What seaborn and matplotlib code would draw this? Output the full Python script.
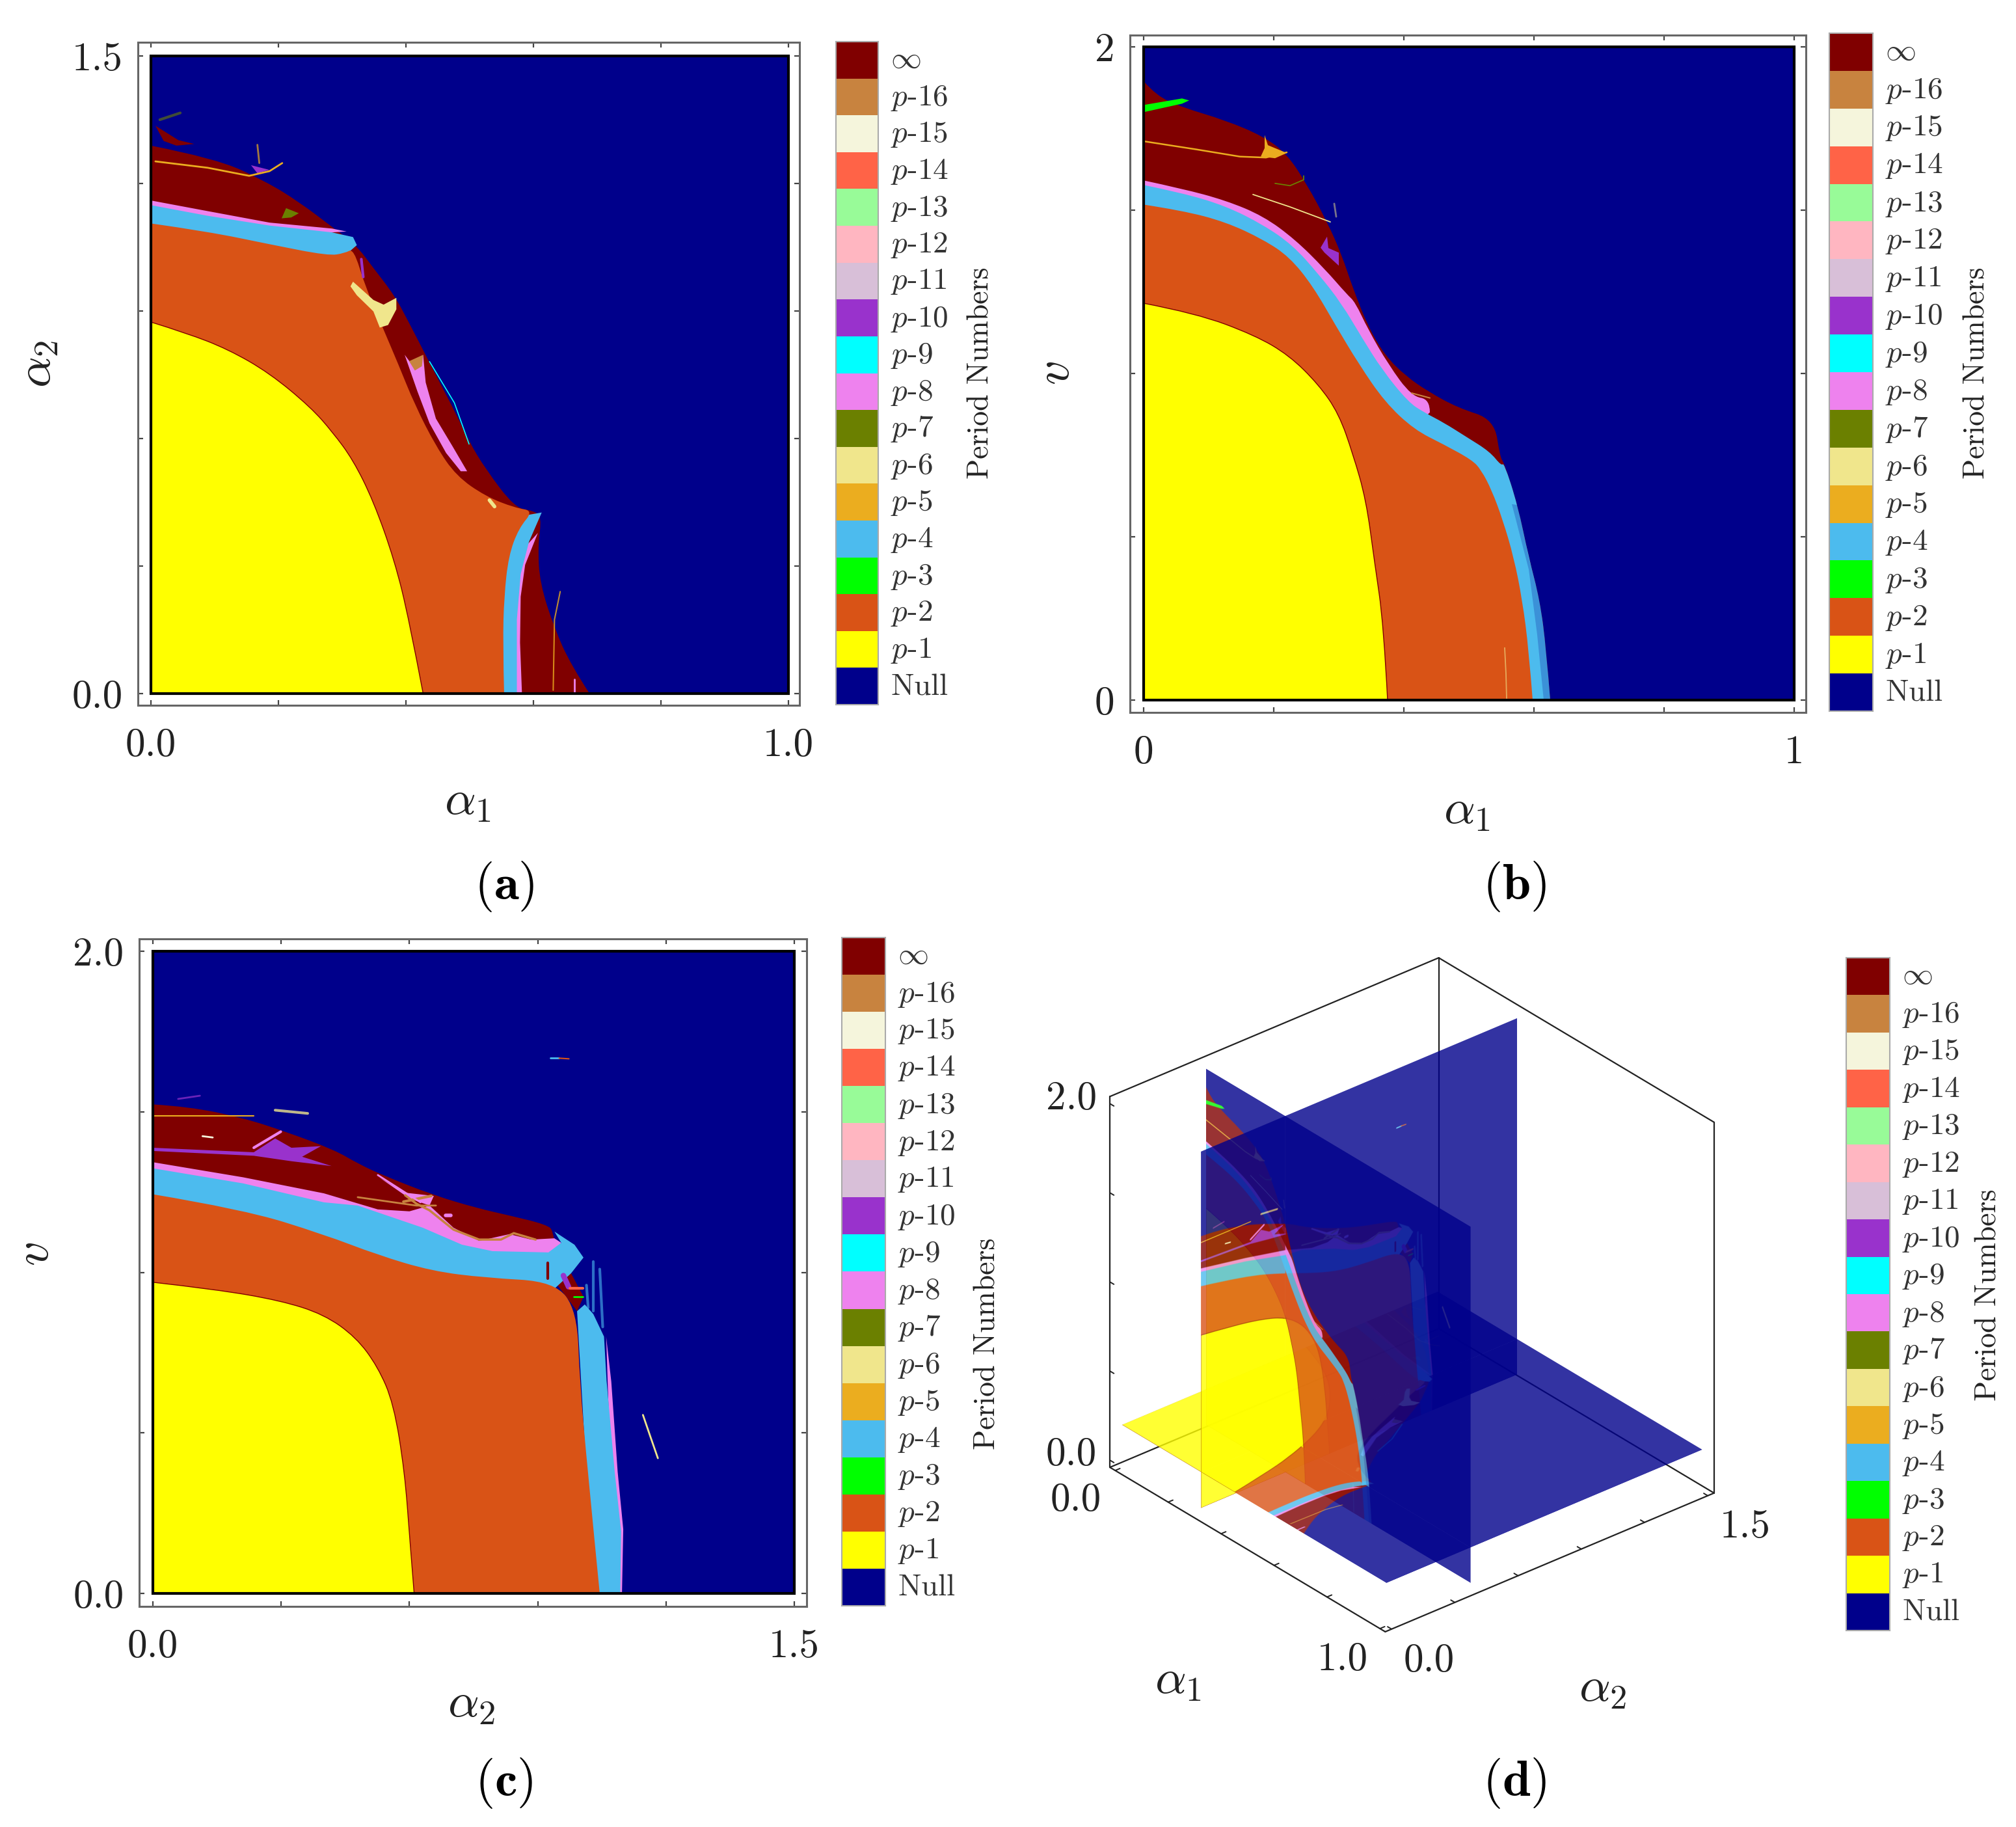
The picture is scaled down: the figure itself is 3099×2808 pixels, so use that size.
# Period number maps: three slices and their 3D view
import numpy as np
import matplotlib as mpl
mpl.use('Agg')
import matplotlib.pyplot as plt
import seaborn as sns
from matplotlib.colors import ListedColormap
from matplotlib.patches import PathPatch, Polygon, Rectangle
from matplotlib.path import Path
from matplotlib.transforms import Affine2D, ScaledTranslation

sns.set_theme(style='ticks')
plt.rcParams['font.family'] = ['cmr10', 'DejaVu Serif']
plt.rcParams['mathtext.fontset'] = 'cm'
plt.rcParams['axes.formatter.use_mathtext'] = True
plt.rcParams['axes.unicode_minus'] = False

W, H = 3099, 2808

# legend, top to bottom
period_names = ['inf', 'p16', 'p15', 'p14', 'p13', 'p12', 'p11', 'p10', 'p9', 'p8', 'p7', 'p6',
                'p5', 'p4', 'p3', 'p2', 'p1', 'null']
period_labels = [r'$\infty$', r'$p\text{-}16$', r'$p\text{-}15$', r'$p\text{-}14$', r'$p\text{-}13$',
                 r'$p\text{-}12$', r'$p\text{-}11$', r'$p\text{-}10$', r'$p\text{-}9$', r'$p\text{-}8$',
                 r'$p\text{-}7$', r'$p\text{-}6$', r'$p\text{-}5$', r'$p\text{-}4$', r'$p\text{-}3$',
                 r'$p\text{-}2$', r'$p\text{-}1$', r'$\mathrm{Null}$']
period_colors = ['#800000', '#C8833F', '#F5F5DC', '#FF6347', '#98FB98', '#FFB6C1', '#D8BFD8', '#9932CC',
                 '#00FFFF', '#EE82EE', '#6B8000', '#F0E68C', '#EBAD1F', '#4CBBEE', '#00FF00', '#D95316',
                 '#FFFF00', '#00008B']
P = dict(zip(period_names, period_colors))

# panel (a): alpha1 / alpha2
a_inf_x = [0, .102, .180, .232, .284, .322, .349, .382, .405, .427, .453, .479, .499, .525, .571, .600, .613, .607, .610, .633, .659, .688]
a_inf_y = [1.289, 1.259, 1.205, 1.157, 1.098, 1.055, 1.001, .937, .872, .808, .732, .657, .593, .528, .437, .430, .416, .346, .260, .153, .067, 0]
a_wedge_x = [.007, .043, .068, .04, .02]
a_wedge_y = [1.336, 1.302, 1.293, 1.289, 1.30]
a_p8top_x = [0, .089, .186, .284, .307, .284, .186, 0]
a_p8top_y = [1.160, 1.135, 1.108, 1.094, 1.087, 1.085, 1.08, 1.12]
a_p4top_x = [0, .089, .186, .284, .317, .323, .304, .278, .186, 0]
a_p4top_y = [1.149, 1.124, 1.101, 1.085, 1.074, 1.055, 1.03, 1.02, 1.04, 1.09]
a_p8right_x = [.607, .587, .580, .579, .582, .56, .56]
a_p8right_y = [.378, .303, .228, .120, 0, 0, .3]
a_p4right_x = [.613, .593, .580, .574, .574, .54, .54, .56, .59]
a_p4right_y = [.426, .357, .281, .174, 0, 0, .2, .35, .42]
a_p2_x = [0, .089, .186, .278, .304, .318, .336, .365, .388, .414, .447, .479, .525, .571, .600, .577, .561, .554, .552, .554]
a_p2_y = [1.106, 1.087, 1.057, 1.030, 1.036, 1.047, .958, .856, .775, .679, .582, .512, .464, .437, .430, .389, .324, .228, .120, 0]
a_p1_x = [0, .056, .121, .186, .251, .285, .317, .349, .382, .405, .427]
a_p1_y = [.874, .848, .810, .754, .673, .615, .550, .453, .314, .174, 0]
a_p8mid_x = [.398, .414, .427, .431, .447, .473, .496, .486, .463, .437, .418]
a_p8mid_y = [.797, .765, .797, .732, .647, .582, .523, .523, .566, .636, .711]
a_p6_x = [.317, .349, .365, .385, .385, .372, .359, .349, .323, .313]
a_p6_y = [.969, .926, .915, .931, .904, .867, .861, .899, .937, .958]
a_p10_x = [.157, .186, .167]
a_p10_y = [1.243, 1.232, 1.224]
a_p7_x = [.205, .220, .232, .212]
a_p7_y = [1.118, 1.120, 1.130, 1.142]
a_p16_x = [.405, .414, .425, .427]
a_p16_y = [.782, .760, .770, .797]
a_p5line_x = [.007, .089, .154, .186, .206]
a_p5line_y = [1.252, 1.237, 1.218, 1.229, 1.248]
a_p5spike_x = [.167, .170]
a_p5spike_y = [1.291, 1.248]
a_greentop_x = [.014, .046]
a_greentop_y = [1.350, 1.366]
a_p10spike_x = [.330, .333]
a_p10spike_y = [1.022, .98]
a_cyanline_x = [.437, .476, .499]
a_cyanline_y = [.781, .684, .587]
a_p5vert_x = [.642, .633, .631]
a_p5vert_y = [.240, .174, .008]
a_pinkvert_x = [.664, .664]
a_pinkvert_y = [.034, .002]
a_p6dot_x = [.531, .539]
a_p6dot_y = [.455, .440]

# panel (b): alpha1 / v
b_inf_x = [0, .019, .059, .126, .184, .220, .251, .282, .304, .322, .345, .371, .403, .438, .483, .539, .548, .554, .575, .592, .609, .619, .625]
b_inf_y = [1.895, 1.851, 1.815, 1.775, 1.726, 1.673, 1.579, 1.464, 1.366, 1.259, 1.144, 1.055, .992, .944, .895, .859, .743, .727, .597, .437, .307, .154, 0]
b_p8_x = [0, .059, .126, .184, .233, .278, .313, .325, .345, .376, .412, .440, .440]
b_p8_y = [1.591, 1.566, 1.530, 1.482, 1.410, 1.321, 1.241, 1.219, 1.135, 1.028, .930, .921, .881]
b_p4_x = [0, .059, .126, .184, .229, .269, .304, .336, .367, .407, .431, .461, .496, .532, .550, .554, .575, .592, .609, .619, .625]
b_p4_y = [1.577, 1.553, 1.513, 1.455, 1.393, 1.304, 1.215, 1.108, 1.010, .912, .881, .850, .806, .761, .717, .727, .597, .437, .307, .154, 0]
b_speck_x = [.566, .592, .605, .615, .625, .619, .609, .592, .575]
b_speck_y = [.60, .40, .2, 0, 0, .154, .307, .437, .597]
b_p2_x = [0, .059, .126, .184, .224, .260, .296, .331, .371, .416, .461, .505, .519, .535, .552, .569, .582, .592, .598]
b_p2_y = [1.517, 1.499, 1.464, 1.410, 1.357, 1.268, 1.144, 1.028, .912, .828, .783, .735, .704, .643, .552, .437, .307, .154, 0]
b_p1_x = [0, .081, .171, .224, .269, .300, .322, .342, .355, .369, .375]
b_p1_y = [1.215, 1.184, 1.117, 1.055, .966, .877, .752, .613, .422, .231, 0]
b_green_x = [0, .059, .070, .059, 0]
b_green_y = [1.822, 1.842, 1.836, 1.826, 1.800]
b_p5blob_x = [.186, .191, .220, .202, .180, .186]
b_p5blob_y = [1.730, 1.699, 1.675, 1.659, 1.664, 1.690]
b_p10blob_x = [.282, .284, .300, .300, .278, .272]
b_p10blob_y = [1.419, 1.384, 1.370, 1.330, 1.370, 1.385]
b_p5line_x = [0, .081, .148, .188, .220]
b_p5line_y = [1.711, 1.686, 1.664, 1.661, 1.677]
b_paleline_x = [.168, .225, .287]
b_paleline_y = [1.548, 1.510, 1.464]
b_oliveline_x = [.202, .225, .246, .246]
b_oliveline_y = [1.582, 1.575, 1.593, 1.605]
b_p16line_x = [.412, .440]
b_p16line_y = [.940, .925]
b_p6vert_x = [.555, .557, .558]
b_p6vert_y = [.160, .080, .005]
b_float_x = [.293, .296]
b_float_y = [1.520, 1.480]

# panel (c): alpha2 / v
c_inf_x = [0, .085, .211, .311, .425, .479, .540, .657, .758, .834, .920, .939, .95]
c_inf_y = [1.523, 1.516, 1.481, 1.438, 1.381, 1.339, 1.301, 1.240, 1.200, 1.177, 1.149, 1.127, 1.0]
c_tri_x = [.978, 1.007, .992, .940]
c_tri_y = [.997, .924, .879, .971]
c_p8band_x = [0, .211, .400, .526, .600, .647, .703, .763, .834, .885, .939, .955, .925, .794, .631, .479, 0]
c_p8band_y = [1.343, 1.296, 1.246, 1.196, 1.190, 1.208, 1.139, 1.098, 1.119, 1.102, 1.106, 1.092, 1.05, 1.05, 1.12, 1.19, 1.31]
c_p8wedge_x = [.530, .590, .657, .647, .60]
c_p8wedge_y = [1.295, 1.248, 1.238, 1.208, 1.23]
c_p4top_x = [0, .211, .400, .479, .631, .723, .794, .925, .955, .939, .986, 1.007, .978, .940, .778, .526, 0]
c_p4top_y = [1.324, 1.277, 1.218, 1.208, 1.139, 1.086, 1.066, 1.062, 1.092, 1.127, 1.086, 1.046, .997, .95, .95, 1.03, 1.2]
c_p8right_x = [1.06, 1.072, 1.087, 1.10, 1.097, 1.08]
c_p8right_y = [.80, .66, .378, .20, 0, 0]
c_p4right_x = [.992, 1.01, 1.03, 1.055, 1.061, 1.080, 1.095, 1.093, 1.03]
c_p4right_y = [.879, .90, .87, .80, .663, .378, .193, 0, 0]
c_streak1_x = [1.030, 1.030]
c_streak1_y = [1.033, .880]
c_streak2_x = [1.045, 1.052]
c_streak2_y = [1.010, .830]
c_streak3_x = [1.014, 1.018]
c_streak3_y = [.960, .890]
c_p2_x = [0, .211, .400, .526, .652, .778, .940, .992, .998, 1.017, 1.045]
c_p2_y = [1.243, 1.196, 1.118, 1.054, 1.004, .983, .971, .879, .663, .378, 0]
c_p1_x = [0, .147, .299, .400, .475, .526, .563, .589, .601, .611]
c_p1_y = [.969, .947, .912, .869, .798, .706, .592, .378, .165, 0]
c_p10_x = [0, .236, .286, .324, .393, .349, .418, .324, .236, 0]
c_p10_y = [1.388, 1.374, 1.417, 1.388, 1.393, 1.360, 1.331, 1.346, 1.363, 1.378]
c_p16a_x = [.590, .616, .647, .703, .763, .814, .844, .895]
c_p16a_y = [1.240, 1.214, 1.193, 1.133, 1.102, 1.102, 1.122, 1.102]
c_p16b_x = [.479, .616, .662]
c_p16b_y = [1.234, 1.208, 1.208]
c_p16c_x = [.586, .651]
c_p16c_y = [1.220, 1.238]
c_p8strand_x = [.236, .299]
c_p8strand_y = [1.388, 1.438]
c_p8diag_x = [.526, .626]
c_p8diag_y = [1.303, 1.218]
c_p5line_x = [0, .236]
c_p5line_y = [1.488, 1.488]
c_float1_x = [.929, .950]
c_float1_y = [1.667, 1.667]
c_float2_x = [.950, .973]
c_float2_y = [1.667, 1.665]
c_p6vert_x = [1.146, 1.163, 1.181]
c_p6vert_y = [.556, .490, .421]
c_blob1_x = [.059, .110]
c_blob1_y = [1.540, 1.550]
c_blob2_x = [.286, .362]
c_blob2_y = [1.505, 1.495]
c_p16top_x = [.116, .140]
c_p16top_y = [1.424, 1.420]
c_magenta_x = [.684, .696]
c_magenta_y = [1.178, 1.178]
c_oval_x = [.923, .923]
c_oval_y = [1.030, .980]
c_trip10_x = [.960, .972]
c_trip10_y = [.990, .955]
c_trip14_x = [.975, 1.005]
c_trip14_y = [.950, .950]
c_trip3_x = [.985, 1.005]
c_trip3_y = [.925, .925]

# slice positions in the 3D view
a1_slice = 0.3
a2_slice = 0.4
v_slice = 0.2
tick_labels_a1 = ['0.0', '1.0']
tick_labels_a2 = ['0.0', '1.5']
tick_labels_v = ['0.0', '2.0']


def fill(ax, key, xs, ys, axis=False, alpha=1.0):
    xs, ys = list(xs), list(ys)
    if axis:
        xs = xs + [0]
        ys = ys + [0]
    ax.fill(xs, ys, color=P[key], lw=0, alpha=alpha)


def curve(ax, key, xs, ys, alpha=1.0, edge=None):
    # region from the axes corner up to a read boundary, read points as bezier controls
    pts = np.column_stack([xs, ys])
    verts = [pts[0]]
    codes = [Path.MOVETO]
    for i in range(1, len(pts) - 1):
        end = pts[i + 1] if i == len(pts) - 2 else (pts[i] + pts[i + 1]) / 2
        verts += [pts[i], end]
        codes += [Path.CURVE3, Path.CURVE3]
    verts += [np.array([0., 0.]), pts[0]]
    codes += [Path.LINETO, Path.CLOSEPOLY]
    ec = P[edge] if edge else 'none'
    ax.add_patch(PathPatch(Path(verts, codes), fc=P[key], ec=ec, lw=1 if edge else 0, alpha=alpha))


def line(ax, key, xs, ys, lw=1.5, alpha=1.0):
    sns.lineplot(x=xs, y=ys, sort=False, estimator=None, color=P[key], linewidth=lw, alpha=alpha, ax=ax, legend=False)


def paint_a(ax):
    ax.fill([0, 1, 1, 0], [0, 0, 1.5, 1.5], color=P['null'], lw=0)
    curve(ax, 'inf', a_inf_x, a_inf_y)
    fill(ax, 'inf', a_wedge_x, a_wedge_y)
    fill(ax, 'p8', a_p8top_x, a_p8top_y)
    fill(ax, 'p4', a_p4top_x, a_p4top_y)
    fill(ax, 'p8', a_p8right_x, a_p8right_y)
    fill(ax, 'p4', a_p4right_x, a_p4right_y)
    curve(ax, 'p2', a_p2_x, a_p2_y)
    curve(ax, 'p1', a_p1_x, a_p1_y, edge='inf')
    fill(ax, 'p8', a_p8mid_x, a_p8mid_y)
    fill(ax, 'p16', a_p16_x, a_p16_y)
    fill(ax, 'p6', a_p6_x, a_p6_y)
    fill(ax, 'p10', a_p10_x, a_p10_y)
    fill(ax, 'p7', a_p7_x, a_p7_y)
    line(ax, 'p5', a_p5line_x, a_p5line_y, 2)
    line(ax, 'p5', a_p5spike_x, a_p5spike_y, 2, .7)
    line(ax, 'p7', a_greentop_x, a_greentop_y, 3, .6)
    line(ax, 'p10', a_p10spike_x, a_p10spike_y, 3)
    line(ax, 'p9', a_cyanline_x, a_cyanline_y, 1.2)
    line(ax, 'p5', a_p5vert_x, a_p5vert_y, 1.5, .8)
    line(ax, 'p8', a_pinkvert_x, a_pinkvert_y, 2)
    line(ax, 'p6', a_p6dot_x, a_p6dot_y, 4)


def paint_b(ax):
    ax.fill([0, 1, 1, 0], [0, 0, 2, 2], color=P['null'], lw=0)
    curve(ax, 'inf', b_inf_x, b_inf_y)
    curve(ax, 'p8', b_p8_x, b_p8_y)
    curve(ax, 'p4', b_p4_x, b_p4_y)
    fill(ax, 'null', b_speck_x, b_speck_y, alpha=.22)
    curve(ax, 'p2', b_p2_x, b_p2_y)
    curve(ax, 'p1', b_p1_x, b_p1_y, edge='inf')
    fill(ax, 'p3', b_green_x, b_green_y)
    fill(ax, 'p5', b_p5blob_x, b_p5blob_y)
    fill(ax, 'p10', b_p10blob_x, b_p10blob_y)
    line(ax, 'p5', b_p5line_x, b_p5line_y, 1.8)
    line(ax, 'p6', b_paleline_x, b_paleline_y, 1.3)
    line(ax, 'p7', b_oliveline_x, b_oliveline_y, 1.3)
    line(ax, 'p16', b_p16line_x, b_p16line_y, 1.5)
    line(ax, 'p6', b_p6vert_x, b_p6vert_y, 1.3, .6)
    line(ax, 'p6', b_float_x, b_float_y, 2, .5)


def paint_c(ax):
    ax.fill([0, 1.5, 1.5, 0], [0, 0, 2, 2], color=P['null'], lw=0)
    curve(ax, 'inf', c_inf_x, c_inf_y)
    fill(ax, 'inf', c_tri_x, c_tri_y)
    fill(ax, 'p8', c_p8band_x, c_p8band_y)
    fill(ax, 'p8', c_p8wedge_x, c_p8wedge_y)
    fill(ax, 'p4', c_p4top_x, c_p4top_y)
    fill(ax, 'p8', c_p8right_x, c_p8right_y)
    fill(ax, 'p4', c_p4right_x, c_p4right_y)
    line(ax, 'p4', c_streak1_x, c_streak1_y, 3, .6)
    line(ax, 'p4', c_streak2_x, c_streak2_y, 3, .6)
    line(ax, 'p4', c_streak3_x, c_streak3_y, 3, .6)
    curve(ax, 'p2', c_p2_x, c_p2_y)
    curve(ax, 'p1', c_p1_x, c_p1_y, edge='inf')
    fill(ax, 'p10', c_p10_x, c_p10_y)
    line(ax, 'p16', c_p16a_x, c_p16a_y, 2.5)
    line(ax, 'p16', c_p16b_x, c_p16b_y, 2)
    line(ax, 'p16', c_p16c_x, c_p16c_y, 3)
    line(ax, 'p8', c_p8strand_x, c_p8strand_y, 3)
    line(ax, 'p8', c_p8diag_x, c_p8diag_y, 2)
    line(ax, 'p5', c_p5line_x, c_p5line_y, 1.5)
    line(ax, 'p4', c_float1_x, c_float1_y, 2)
    line(ax, 'p2', c_float2_x, c_float2_y, 1.5)
    line(ax, 'p6', c_p6vert_x, c_p6vert_y, 2)
    line(ax, 'p10', c_blob1_x, c_blob1_y, 2, .7)
    line(ax, 'p6', c_blob2_x, c_blob2_y, 3, .8)
    line(ax, 'p15', c_p16top_x, c_p16top_y, 2)
    line(ax, 'p8', c_magenta_x, c_magenta_y, 4)
    line(ax, 'inf', c_oval_x, c_oval_y, 3)
    line(ax, 'p10', c_trip10_x, c_trip10_y, 6)
    line(ax, 'p14', c_trip14_x, c_trip14_y, 3)
    line(ax, 'p3', c_trip3_x, c_trip3_y, 2)


fig = plt.figure(figsize=(W / 100, H / 100), dpi=100, facecolor='white')


def rect(l, t, r, b):
    return [l / W, 1 - b / H, (r - l) / W, (b - t) / H]


def put(x, y, s, size=44, **kw):
    kw.setdefault('ha', 'center')
    kw.setdefault('va', 'center')
    kw.setdefault('color', '#222222')
    fig.text(x / W, 1 - y / H, s, fontsize=size, **kw)


def panel(frame, inner, xmax, ymax, xticks, yticks, xlab, ylab, painter):
    ax = fig.add_axes(rect(*frame))
    painter(ax)
    l, t, r, b = frame
    il, it, ir, ib = inner
    sx = xmax / (ir - il)
    sy = ymax / (ib - it)
    ax.set_xlim(-(il - l) * sx, xmax + (r - ir) * sx)
    ax.set_ylim(-(b - ib) * sy, ymax + (it - t) * sy)
    ax.add_patch(Rectangle((0, 0), xmax, ymax, fill=False, ec='black', lw=3, zorder=5))
    ax.set_xticks(xticks)
    ax.set_yticks(yticks)
    ax.set_xticklabels(xlab, fontsize=44, color='#222222')
    ax.set_yticklabels(ylab, fontsize=44, color='#222222')
    ax.tick_params(direction='in', top=True, right=True, length=6, width=1.6, color='#444444')
    ax.tick_params(axis='x', pad=25)
    ax.tick_params(axis='y', pad=17)
    for s in ax.spines.values():
        s.set_color('#666666')
        s.set_linewidth(2.2)
    return ax


def strip(l, t, r, b, title_x, title_y):
    ax = fig.add_axes(rect(l, t, r, b))
    cells = np.arange(len(period_names))[:, None]
    sns.heatmap(cells, cmap=ListedColormap(period_colors), cbar=False, xticklabels=False,
                yticklabels=period_labels, vmin=-.5, vmax=len(period_names) - .5, ax=ax)
    ax.yaxis.tick_right()
    ax.tick_params(axis='y', direction='in', length=8, width=1.5, color='#00000066', pad=14, labelsize=34,
                   labelcolor='#333333', labelrotation=0)
    shift = ScaledTranslation(0, 4 / 100, fig.dpi_scale_trans)
    for lab in ax.get_yticklabels():
        lab.set_transform(lab.get_transform() + shift)
    for s in ax.spines.values():
        s.set_visible(True)
        s.set_color('#aaaaaa')
        s.set_linewidth(1.5)
    put(title_x, title_y, 'Period Numbers', size=33, rotation=90)


panel((212, 65, 1229, 1084), (232, 86, 1212, 1066), 1, 1.5, np.arange(0, 1.01, .2), np.arange(0, 1.51, .3),
      ['0.0', '', '', '', '', '1.0'], ['0.0', '', '', '', '', '1.5'], paint_a)
panel((1737, 54, 2776, 1095), (1758, 72, 2758, 1076), 1, 2, np.arange(0, 1.01, .2), np.arange(0, 2.01, .5),
      ['0', '', '', '', '', '1'], ['0', '', '', '', '2'], paint_b)
panel((214, 1443, 1240, 2469), (235, 1462, 1221, 2449), 1.5, 2, np.arange(0, 1.51, .3), np.arange(0, 2.01, .5),
      ['0.0', '', '', '', '', '1.5'], ['0.0', '', '', '', '2.0'], paint_c)

strip(1285, 64, 1350, 1083, 1508, 573)
strip(2812, 51, 2879, 1093, 3039, 573)
strip(1294, 1441, 1361, 2468, 1518, 2065)
strip(2838, 1472, 2905, 2506, 3057, 1990)

put(719, 1233, r'$\alpha_1$', 54)
put(59, 559, r'$\alpha_2$', 54, rotation=90)
put(2255, 1247, r'$\alpha_1$', 54)
put(1624, 573, r'$v$', 54, rotation=90)
put(725, 2620, r'$\alpha_2$', 54)
put(55, 1927, r'$v$', 54, rotation=90)

put(775, 1363, r'$(\mathbf{a})$', 56, color='black')
put(2328, 1363, r'$(\mathbf{b})$', 56, color='black')
put(775, 2741, r'$(\mathbf{c})$', 56, color='black')
put(2328, 2741, r'$(\mathbf{d})$', 56, color='black')

# panel (d): the three slices seen from a parallel projection
ax3 = fig.add_axes(rect(1600, 1450, 2800, 2620))
ax3.axis('off')
ORIGIN = np.array([1724., 2245.])
VEC_A1 = np.array([407., 243.])
VEC_A2 = np.array([486., -205.])
VEC_V = np.array([0., -548.])


def project(a1, a2, v):
    return ORIGIN + a1 * VEC_A1 + (a2 / 1.5) * VEC_A2 + (v / 2) * VEC_V


def render(painter, xmax, ymax):
    f = plt.figure(figsize=(8, 8), dpi=100)
    a = f.add_axes([0, 0, 1, 1])
    painter(a)
    a.set_xlim(0, xmax)
    a.set_ylim(0, ymax)
    a.axis('off')
    f.canvas.draw()
    arr = np.asarray(f.canvas.buffer_rgba()).copy()
    plt.close(f)
    return arr


img_h = render(paint_a, 1, 1.5)
img_p1 = render(paint_b, 1, 2)
img_p2 = render(paint_c, 1.5, 2)

pad = 0.02
box = lambda i, j, k: project(-pad + i * (1 + 2 * pad), 1.5 * (-pad + j * (1 + 2 * pad)), 2 * (-pad + k * (1 + 2 * pad)))
box_edges = [((0, 0, 1), (0, 1, 1)), ((0, 1, 1), (1, 1, 1)), ((1, 1, 1), (1, 1, 0)), ((0, 0, 0), (0, 0, 1)),
             ((0, 1, 0), (0, 1, 1)), ((0, 0, 0), (1, 0, 0)), ((1, 0, 0), (1, 1, 0)), ((0, 0, 0), (0, 1, 0)),
             ((0, 1, 0), (1, 1, 0))]
for c0, c1 in box_edges:
    p0, p1 = box(*c0), box(*c1)
    ax3.plot([p0[0], p1[0]], [p0[1], p1[1]], color='#222222', lw=1.6, zorder=.5)

for t in np.arange(0, 1.01, .2):
    p0 = project(t, -pad * 1.5, -pad * 2)
    ax3.plot([p0[0], p0[0] + .015 * VEC_A2[0]], [p0[1], p0[1] + .015 * VEC_A2[1]], color='#222222', lw=1.4, zorder=.5)
    p0 = project(1 + pad, 1.5 * t, -pad * 2)
    ax3.plot([p0[0], p0[0] - .015 * VEC_A1[0]], [p0[1], p0[1] - .015 * VEC_A1[1]], color='#222222', lw=1.4, zorder=.5)
for t in np.arange(0, 2.01, .5):
    p0 = project(-pad, -pad * 1.5, t)
    ax3.plot([p0[0], p0[0] + .015 * VEC_A1[0]], [p0[1], p0[1] + .015 * VEC_A1[1]], color='#222222', lw=1.4, zorder=.5)


def plane(img, o, u, w, clip, z):
    tr = Affine2D.from_values(u[0], u[1], w[0], w[1], o[0], o[1]) + ax3.transData
    im = ax3.imshow(img, extent=(0, 1, 0, 1), transform=tr, alpha=.8, interpolation='bilinear', aspect='auto', zorder=z)
    im.set_clip_path(Polygon(clip, transform=ax3.transData))


def h_plane(a1a, a1b, a2a, a2b, z):
    clip = [project(a1a, a2a, v_slice), project(a1b, a2a, v_slice), project(a1b, a2b, v_slice), project(a1a, a2b, v_slice)]
    plane(img_h, project(0, 0, v_slice), VEC_A1, VEC_A2, clip, z)


def p1_plane(a1a, a1b, z):
    clip = [project(a1a, a2_slice, 0), project(a1b, a2_slice, 0), project(a1b, a2_slice, 2), project(a1a, a2_slice, 2)]
    plane(img_p1, project(0, a2_slice, 0), VEC_A1, VEC_V, clip, z)


# far to near
h_plane(0, a1_slice, a2_slice, 1.5, 1)
p1_plane(0, a1_slice, 2)
h_plane(0, a1_slice, 0, a2_slice, 3)
plane(img_p2, project(a1_slice, 0, 0), VEC_A2, VEC_V,
      [project(a1_slice, 0, 0), project(a1_slice, 1.5, 0), project(a1_slice, 1.5, 2), project(a1_slice, 0, 2)], 4)
h_plane(a1_slice, 1, a2_slice, 1.5, 5)
p1_plane(a1_slice, 1, 6)
h_plane(a1_slice, 1, 0, a2_slice, 7)

ax3.set_xlim(1600, 2800)
ax3.set_ylim(2620, 1450)

put(1647, 1689, tick_labels_v[1])
put(1647, 2236, tick_labels_v[0])
put(1654, 2306, tick_labels_a1[0])
put(2064, 2551, tick_labels_a1[1])
put(2197, 2553, tick_labels_a2[0])
put(2683, 2347, tick_labels_a2[1])
put(1811, 2584, r'$\alpha_1$', 54)
put(2464, 2596, r'$\alpha_2$', 54)

fig.savefig('out.png', dpi=100)
